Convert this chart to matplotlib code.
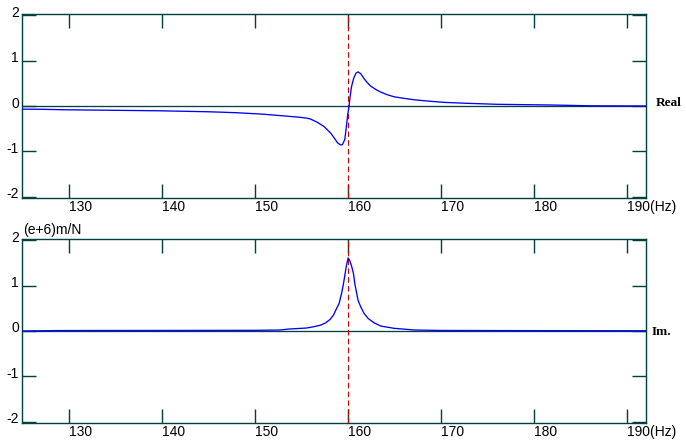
import matplotlib
matplotlib.use("Agg")
import matplotlib.pyplot as plt
from matplotlib.transforms import ScaledTranslation

# ---------------- data ----------------
freq_real = [125.0, 127.0, 129.5, 134.5, 139.6, 142.3, 145.0, 146.5, 148.0, 149.0,
             150.9, 152.2, 153.5, 154.7, 155.6, 156.0, 156.7, 157.4, 158.14, 158.49,
             158.86, 159.2, 159.39, 159.64, 159.82, 159.93, 160.1, 160.21, 160.36,
             160.58, 160.83, 161.07, 161.36, 161.72, 162.08, 162.44, 162.98, 163.51,
             164.23, 164.94, 166.02, 167.09, 168.53, 170.32, 172.83, 176.06, 181.79,
             185.74, 192.0]
real_vals = [-0.070, -0.072, -0.083, -0.094, -0.105, -0.116, -0.127, -0.137, -0.148, -0.159,
             -0.181, -0.203, -0.225, -0.246, -0.268, -0.29, -0.36, -0.45, -0.60, -0.70,
             -0.81, -0.857, -0.85, -0.74, -0.45, -0.23, 0.0, 0.20, 0.42,
             0.60, 0.72, 0.752, 0.71, 0.60, 0.51, 0.436, 0.364, 0.305,
             0.247, 0.203, 0.168, 0.137, 0.109, 0.080, 0.059, 0.037, 0.022,
             0.005, 0.0]

freq_imag = [125.0, 129.0, 140.0, 150.0, 152.7, 153.7, 155.5, 156.3, 157.06, 157.6,
             158.06, 158.43, 158.67, 159.03, 159.29, 159.5, 159.67, 159.82, 160.0,
             160.18, 160.36, 160.58, 160.72, 160.93, 161.07, 161.36, 161.72, 162.15,
             162.79, 163.51, 164.94, 167.09, 170.0, 180.0, 192.0]
imag_vals = [0.0, 0.010, 0.012, 0.015, 0.022, 0.044, 0.065, 0.094, 0.13, 0.18,
             0.255, 0.35, 0.458, 0.604, 0.822, 1.04, 1.258, 1.44, 1.61,
             1.55, 1.44, 1.26, 1.04, 0.82, 0.676, 0.53, 0.386, 0.277,
             0.18, 0.109, 0.059, 0.022, 0.012, 0.008, 0.005]

resonance_hz = 160.0
xticks = [130, 140, 150, 160, 170, 180, 190]
xtick_labels = ["130", "140", "150", "160", "170", "180", "190(Hz)"]
yticks = [-2, -1, 0, 1, 2]
ytick_labels = ["-2", "-1", "0", "1", "2"]
panel_names = ["Real", "Im."]
unit_label = "(e+6)m/N"

# ---------------- style ----------------
plt.rcParams["font.family"] = ["Liberation Sans", "DejaVu Sans"]
DPI = 100
W, H = 686, 442
SPINE = "#004040"
PX = 72.0 / DPI  # one pixel in points

fig = plt.figure(figsize=(W / DPI, H / DPI), dpi=DPI)
fig.patch.set_facecolor("white")


def rect(x0, y0, x1, y1):
    return [x0 / W, 1 - y1 / H, (x1 - x0) / W, (y1 - y0) / H]


ax1 = fig.add_axes(rect(22.3, 14.3, 646, 197.7))
ax2 = fig.add_axes(rect(22.3, 239.3, 646, 422.7))

label_offsets = [(7.0, 0.0), (4.3, -3.0)]

for ax, fx, fy, name, loff in [(ax1, freq_real, real_vals, panel_names[0], label_offsets[0]),
                               (ax2, freq_imag, imag_vals, panel_names[1], label_offsets[1])]:
    ax.set_xlim(125, 192)
    ax.set_ylim(-2.02, 2.02)
    ax.axhline(0, color=SPINE, lw=1.3 * PX, zorder=2)
    ax.axvline(resonance_hz, color="#d00000", lw=1.1 * PX,
               linestyle=(0, (5, 3)), zorder=3)
    ax.plot(fx, fy, color="#0000ff", lw=0.95, zorder=4, solid_joinstyle="round")
    for s in ax.spines.values():
        s.set_color(SPINE)
        s.set_linewidth(1.4 * PX)
    ax.set_xticks(xticks)
    ax.set_xticklabels(xtick_labels, ha="left")
    ax.set_yticks(yticks)
    ax.set_yticklabels(ytick_labels)
    ax.tick_params(axis="both", direction="in", length=14 * PX, width=1.4 * PX,
                   color=SPINE, top=True, right=True, labelsize=10, labelcolor="black")
    ax.tick_params(axis="x", pad=1.6)
    ax.tick_params(axis="y", pad=2.4)
    off = ScaledTranslation(0, 4.0 / DPI, fig.dpi_scale_trans)
    for t in ax.yaxis.get_major_ticks():
        t.label1.set_transform(t.label1.get_transform() + off)
    ax.annotate(name, xy=(1, 0), xycoords=("axes fraction", "data"),
                xytext=loff, textcoords="offset points", va="baseline", ha="left",
                fontsize=9.5, fontweight="bold",
                family=["Liberation Serif", "DejaVu Serif"])

ax2.annotate(unit_label, xy=(0, 1), xycoords="axes fraction",
             xytext=(0.3, 3.5), textcoords="offset points", ha="left", va="baseline",
             fontsize=10)

fig.savefig("out.png", dpi=DPI)
